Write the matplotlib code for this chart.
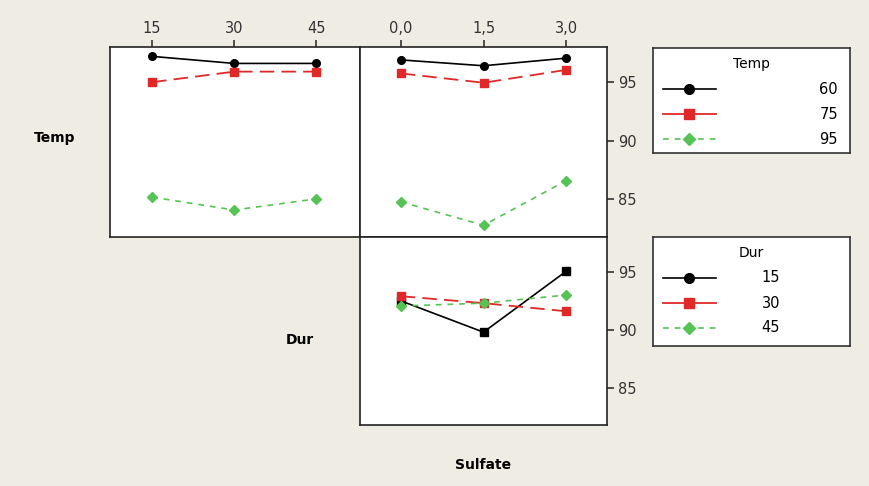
import numpy as np
import matplotlib.pyplot as plt
from matplotlib.lines import Line2D

# interaction plot data (means)
dur_levels = [15, 30, 45]
sulfate_levels = [0.0, 1.5, 3.0]
sulfate_labels = ["0,0", "1,5", "3,0"]

temp_by_dur = {
    "60": [97.2, 96.6, 96.6],
    "75": [95.0, 95.9, 95.9],
    "95": [85.2, 84.1, 85.05],
}
temp_by_sulfate = {
    "60": [96.9, 96.4, 97.05],
    "75": [95.75, 94.95, 96.05],
    "95": [84.8, 82.8, 86.6],
}
dur_by_sulfate = {
    "15": [92.5, 89.8, 95.05],
    "30": [92.9, 92.3, 91.6],
    "45": [92.05, 92.3, 93.0],
}

W, H = 869, 486
BG = "#efece4"
styles = [
    dict(color="black", ls="-", lw=1.2),
    dict(color="#e02828", ls=(0, (8, 4)), lw=1.3),
    dict(color="#55c455", ls=(0, (3.5, 3.5)), lw=1.2),
]
markers_top = ["o", "s", "D"]
markers_bot = ["s", "s", "D"]
ylim = (81.8, 98.0)

fig = plt.figure(figsize=(W / 100, H / 100), dpi=100, facecolor=BG)


def px_axes(x0, y0, x1, y1):
    return fig.add_axes([x0 / W, 1 - y1 / H, (x1 - x0) / W, (y1 - y0) / H])


def draw(ax, xs, series, markers):
    for (name, vals), st, mk in zip(series.items(), styles, markers):
        ax.plot(xs, vals, marker=mk, ms=5 if mk == "D" else 5.5,
                color=st["color"], ls=st["ls"], lw=st["lw"])
    ax.set_ylim(*ylim)
    for s in ax.spines.values():
        s.set_linewidth(1.2)
        s.set_color("#222222")


ax1 = px_axes(110, 47, 360, 237)
draw(ax1, dur_levels, temp_by_dur, markers_top)
ax1.set_xlim(7.3, 53)
ax1.set_xticks(dur_levels)
ax1.xaxis.tick_top()
ax1.set_yticks([])

ax2 = px_axes(360, 47, 607, 237)
draw(ax2, sulfate_levels, temp_by_sulfate, markers_top)
ax2.set_xlim(-0.74, 3.74)
ax2.set_xticks(sulfate_levels, sulfate_labels)
ax2.xaxis.tick_top()

ax3 = px_axes(360, 237, 607, 425)
draw(ax3, sulfate_levels, dur_by_sulfate, markers_bot)
ax3.set_xlim(-0.74, 3.74)
ax3.set_xticks([])

for ax in (ax2, ax3):
    ax.yaxis.tick_right()
    ax.set_yticks([85, 90, 95])
for ax in (ax1, ax2, ax3):
    ax.tick_params(labelsize=10.5, length=5, width=1.2, colors="#333333", pad=3)

fig.text(55 / W, 1 - 138 / H, "Temp", ha="center", va="center", fontsize=10, fontweight="bold")
fig.text(300 / W, 1 - 340 / H, "Dur", ha="center", va="center", fontsize=10, fontweight="bold")
fig.text(483 / W, 1 - 465 / H, "Sulfate", ha="center", va="center", fontsize=10, fontweight="bold")


def legend_box(x0, y0, x1, y1, title, labels, markers, label_x):
    lx = px_axes(x0, y0, x1, y1)
    lx.set_xlim(x0, x1)
    lx.set_ylim(y1, y0)
    lx.set_xticks([])
    lx.set_yticks([])
    for s in lx.spines.values():
        s.set_linewidth(1.2)
        s.set_color("#333333")
    lx.text((x0 + x1) / 2, y0 + 16, title, ha="center", va="center", fontsize=10)
    rows = [y0 + 41, y0 + 66, y0 + 91]
    for yy, lab, st, mk in zip(rows, labels, styles, markers):
        lx.add_line(Line2D([x0 + 10, x0 + 63], [yy, yy], color=st["color"],
                           ls=st["ls"] if mk == "D" else "-", lw=st["lw"]))
        lx.plot([x0 + 36], [yy], marker=mk, ms=6.5 if mk == "D" else 7,
                color=st["color"])
        lx.text(label_x, yy, lab, ha="right", va="center", fontsize=10.5)


legend_box(653, 48, 850, 153, "Temp", list(temp_by_dur), ["o", "s", "D"], 838)
legend_box(653, 237, 850, 346, "Dur", list(dur_by_sulfate), ["o", "s", "D"], 780)

fig.savefig("out.png", dpi=100, facecolor=BG)
